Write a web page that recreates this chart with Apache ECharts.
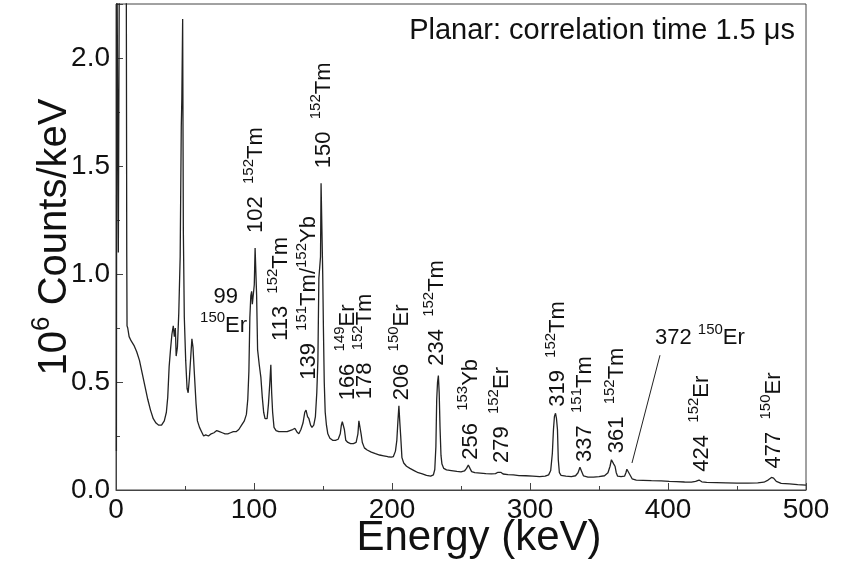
<!DOCTYPE html>
<html>
<head>
<meta charset="utf-8">
<script src="https://cdn.jsdelivr.net/npm/echarts@6/dist/echarts.min.js"></script>
<style>html,body{margin:0;padding:0;background:#fff}#c{width:842px;height:563px}</style>
</head>
<body>
<div id="c"></div>
<script>
// Energy (keV) and counts (10^6 counts/keV)
const energy = [0.3,0.6,1.4,1.7,2.2,2.5,7.4,7.8,8.0,8.5,9.5,11,13,15,17,19,21,23,25,27,29,31,33,35,36.5,37.5,38.5,39.5,40.5,41.5,42.3,43,43.6,44.5,45.5,46.5,47.3,47.7,48.3,48.8,49.5,50.5,51.5,52.3,53.2,54.2,55,55.8,56.7,58,59,60.5,62,63.5,65,67,69,71,73,75,77,79,81,83,85,87,89,91,93,94.5,95.5,96.3,97,97.7,98.3,98.8,99.5,100.2,100.8,101.4,101.9,102.6,103.8,105,106,107,108,109.5,110.5,111.5,112.2,112.8,113.5,114.5,116,118,120,122,124,126,128,129.7,131,132.5,134,135.5,136.8,137.7,138.8,139.8,141,142,143.3,144.5,145.5,146.3,147,147.6,148.2,148.6,149.3,149.8,150.3,150.9,151.6,152.5,153.5,155,157,159,161,162.5,163.3,164,164.8,165.5,166.5,168,170,172,174,175.3,176,176.8,177.6,178.5,180,182,185,188,191,194,197,199.5,201,202.5,203.5,204.3,205,205.6,206.3,207.2,208.5,210.5,213,216,219,222,225,228,230,231,231.8,232.4,233,233.6,234.2,234.8,235.5,236.2,237.5,239.5,243,247,250,252.5,254,255.3,256.5,257.7,260,264,268,272,275,276.8,277.8,278.8,280.5,284,288,292,297,302,307,311,313.5,315,316.2,317,317.7,318.5,319.2,319.9,320.5,321.3,322.5,326,330,333,334.8,336.2,337.5,338.8,342,346,350,354,356.5,358,359,359.9,360.7,361.6,362.5,363.5,366,368.5,369.5,370.2,371.3,372.3,374,377,382,388,395,401,406,412,417,420,422.5,424.5,428,435,442,450,458,465,469.5,472.5,475,476.5,478.5,482,488,494,500];
const counts = [0.18,2.6,2.6,1.1,1.1,2.6,2.6,1.08,0.76,0.75,0.71,0.69,0.67,0.64,0.60,0.54,0.48,0.42,0.37,0.33,0.31,0.30,0.30,0.32,0.36,0.43,0.57,0.65,0.72,0.76,0.71,0.75,0.62,0.66,0.82,1.08,1.68,1.81,2.18,1.2,0.8,0.6,0.47,0.45,0.52,0.62,0.70,0.66,0.55,0.40,0.32,0.29,0.27,0.25,0.255,0.25,0.26,0.265,0.275,0.27,0.265,0.26,0.26,0.265,0.27,0.27,0.28,0.30,0.32,0.35,0.42,0.55,0.80,0.90,0.92,0.86,0.86,0.95,1.12,1.12,0.9,0.65,0.58,0.52,0.43,0.36,0.33,0.33,0.40,0.50,0.58,0.45,0.36,0.29,0.275,0.27,0.27,0.27,0.27,0.275,0.28,0.285,0.27,0.26,0.28,0.31,0.36,0.37,0.34,0.33,0.30,0.29,0.30,0.34,0.45,0.6,0.98,1.03,1.08,1.42,1.42,1.0,0.75,0.5,0.36,0.30,0.26,0.24,0.23,0.23,0.235,0.26,0.30,0.316,0.316,0.28,0.23,0.22,0.215,0.215,0.22,0.26,0.32,0.32,0.26,0.22,0.195,0.185,0.175,0.168,0.162,0.158,0.154,0.152,0.155,0.18,0.23,0.32,0.39,0.32,0.25,0.15,0.125,0.11,0.10,0.09,0.08,0.075,0.068,0.064,0.07,0.095,0.2,0.42,0.50,0.53,0.45,0.29,0.16,0.12,0.1,0.093,0.09,0.086,0.084,0.088,0.10,0.116,0.10,0.085,0.08,0.078,0.076,0.075,0.076,0.082,0.09,0.082,0.074,0.071,0.07,0.067,0.066,0.064,0.062,0.064,0.07,0.09,0.17,0.28,0.34,0.355,0.33,0.28,0.14,0.08,0.068,0.064,0.062,0.066,0.08,0.105,0.085,0.065,0.06,0.06,0.062,0.066,0.08,0.11,0.14,0.147,0.12,0.11,0.08,0.064,0.062,0.064,0.08,0.096,0.096,0.072,0.052,0.046,0.045,0.043,0.042,0.04,0.039,0.037,0.036,0.04,0.046,0.038,0.035,0.034,0.033,0.032,0.032,0.033,0.036,0.046,0.058,0.055,0.04,0.031,0.028,0.025,0.023];

// Axis ticks
const xTicks = [0,100,200,300,400,500];
const yTicks = [0,0.5,1.0,1.5,2.0];

// Rotated peak labels
const peakEnergies = [100, 149, 118, 138.5, 166.5, 179, 205.5, 231, 255.5, 278, 319, 338, 361.5, 423, 475];
const peakAnchorY  = [1.19, 1.49, 0.69, 0.51, 0.415, 0.42, 0.415, 0.575, 0.14, 0.125, 0.385, 0.13, 0.17, 0.085, 0.10];
const peakNumbers  = ['102','150','113','139','166','178','206','234','256','279','319','337','361','424','477'];
const peakNuclides = [[['152','Tm']],[['152','Tm']],[['152','Tm']],[['151','Tm/'],['152','Yb']],[['149','Er']],[['152','Tm']],[['150','Er']],[['152','Tm']],[['153','Yb']],[['152','Er']],[['152','Tm']],[['151','Tm']],[['152','Tm']],[['152','Er']],[['150','Er']]];

// Horizontal labels
const hLabels = [
  {e: 88.4, v: 0.905, parts: [['n','99']], align: 'right'},
  {e: 95.0, v: 0.77, parts: [['s','150'],['n','Er']], align: 'right'},
  {e: 390.6, v: 0.715, parts: [['n','372 '],['s','150'],['n','Er']], align: 'left'}
];
const leader372 = [[394.2, 0.624], [373.9, 0.125]];

const FONT = 'Liberation Sans, Arial, Helvetica, sans-serif';
const rich = {
  n: {fontSize: 22, fontFamily: FONT, color: '#111', lineHeight: 26, verticalAlign: 'bottom'},
  s: {fontSize: 15, fontFamily: FONT, color: '#111', lineHeight: 26, verticalAlign: 'top'}
};

const chart = echarts.init(document.getElementById('c'), null, {renderer: 'canvas'});

const spectrum = energy.map((e, i) => [e, counts[i]]);

function richText(parts) {
  return parts.map(p => '{' + p[0] + '|' + p[1] + '}').join('');
}

const option = {
  animation: false,
  backgroundColor: '#fff',
  title: {
    text: 'Planar: correlation time 1.5 \u03bcs',
    right: 42, top: 11,
    textStyle: {fontSize: 29, fontWeight: 'normal', fontFamily: FONT, color: '#111'}
  },
  grid: {left: 116, right: 36, top: 4, bottom: 73, show: true, borderColor: '#444', borderWidth: 1,
    backgroundColor: 'transparent', containLabel: false, outerBoundsMode: 'none'},
  xAxis: {
    type: 'value', min: 0, max: 500, interval: 100,
    name: 'Energy (keV)', nameLocation: 'middle', nameGap: 27, nameMoveOverlap: false,
    nameTextStyle: {fontSize: 42, fontFamily: FONT, color: '#111', padding: [0, 0, 0, 36]},
    axisLine: {show: true, lineStyle: {color: '#444', width: 1}},
    axisTick: {show: true, inside: true, length: 7, lineStyle: {color: '#444'}},
    minorTick: {show: true, splitNumber: 2, length: 4, lineStyle: {color: '#444'}},
    axisLabel: {fontSize: 28, fontFamily: FONT, color: '#111', margin: 6,
      formatter: v => xTicks.indexOf(v) >= 0 ? String(v) : ''},
    splitLine: {show: false}
  },
  yAxis: {
    type: 'value', min: 0, max: 2.25, interval: 0.5,
    name: '{n|10}{s|6}{n| Counts/keV}', nameLocation: 'middle', nameGap: 41, nameRotate: 90,
    nameMoveOverlap: false,
    nameTextStyle: {
      padding: [0, 0, 0, 20],
      rich: {
        n: {fontSize: 40, fontFamily: FONT, color: '#111', lineHeight: 46, verticalAlign: 'bottom'},
        s: {fontSize: 26, fontFamily: FONT, color: '#111', lineHeight: 46, verticalAlign: 'top'}
      }
    },
    axisLine: {show: true, lineStyle: {color: '#444', width: 1}},
    axisTick: {show: true, inside: true, length: 7, lineStyle: {color: '#444'}},
    minorTick: {show: true, splitNumber: 2, length: 4, lineStyle: {color: '#444'}},
    axisLabel: {fontSize: 28, fontFamily: FONT, color: '#111', margin: 6, showMaxLabel: false,
      formatter: v => {
        const k = yTicks.findIndex(t => Math.abs(t - v) < 1e-9);
        return k >= 0 ? yTicks[k].toFixed(1) : '';
      }},
    splitLine: {show: false}
  },
  series: [
    {
      type: 'line', data: spectrum, showSymbol: false, symbol: 'none', clip: true,
      lineStyle: {color: '#222', width: 1.3},
      markLine: {
        silent: true, symbol: 'none', label: {show: false},
        lineStyle: {color: '#222', width: 1, type: 'solid'},
        data: [[{coord: leader372[0]}, {coord: leader372[1]}]]
      }
    },
    {
      type: 'custom', clip: false, silent: true,
      data: peakEnergies.map((e, i) => [e, peakAnchorY[i]]),
      renderItem: function (params, api) {
        const i = params.dataIndex;
        const p = api.coord([api.value(0), api.value(1)]);
        let txt = '{n|' + peakNumbers[i] + '  }';
        peakNuclides[i].forEach(nu => { txt += '{s|' + nu[0] + '}{n|' + nu[1] + '}'; });
        return {
          type: 'text', x: p[0], y: p[1], rotation: Math.PI / 2,
          style: {text: txt, rich: rich, align: 'left', verticalAlign: 'middle', fill: '#111'}
        };
      }
    },
    {
      type: 'custom', clip: false, silent: true,
      data: hLabels.map(h => [h.e, h.v]),
      renderItem: function (params, api) {
        const h = hLabels[params.dataIndex];
        const p = api.coord([api.value(0), api.value(1)]);
        return {
          type: 'text', x: p[0], y: p[1],
          style: {text: richText(h.parts), rich: rich, align: h.align, verticalAlign: 'middle', fill: '#111'}
        };
      }
    }
  ]
};
chart.setOption(option);
</script>
</body>
</html>
